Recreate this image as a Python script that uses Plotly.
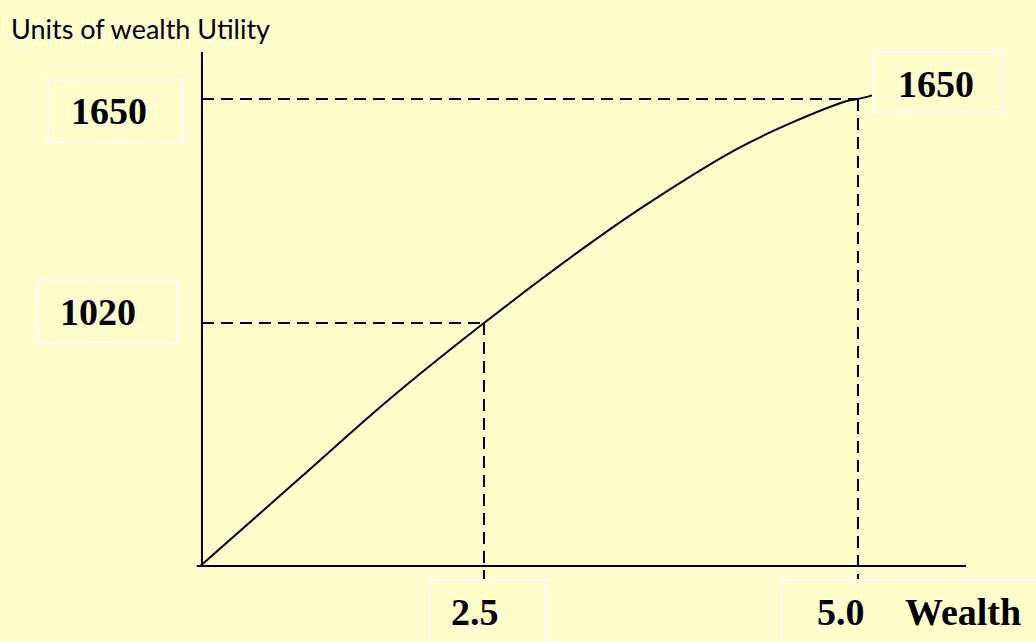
import plotly.graph_objects as go

# ---- data (schematic utility-of-wealth curve) ----
wealth_levels = [2.5, 5.0]
utility_levels = [1020, 1650]
curve_wealth = [0.60, 1.27, 1.86, 2.50, 3.13, 3.56, 4.18, 4.55, 4.95, 5.00, 5.10]
curve_utility = [335, 584, 803, 1020, 1220, 1346, 1507, 1582, 1647, 1650, 1661]
axis_title_y = "Units of wealth Utility"
axis_title_x = "Wealth"

# ---- layout constants ----
W, H = 1036, 642
BG = "#FFFFCC"
X_RANGE = [-0.735, 6.190]
Y_RANGE = [122.85, 1928.5]
ORIGIN_X, ORIGIN_Y = 0.615, 336.6
X_AXIS_END = 5.722
X_AXIS_START = 0.58
Y_AXIS_END = 1782
GUIDE_BOTTOM = 297

def px(x):
    return x / W

def py(y):
    return 1 - y / H

fig = go.Figure()

fig.add_trace(go.Scatter(
    x=curve_wealth, y=curve_utility, mode="lines",
    line=dict(color="black", width=2, shape="spline", smoothing=1.0),
    hoverinfo="skip", showlegend=False,
))

shapes = []
# axes
shapes.append(dict(type="line", xref="x", yref="y", x0=ORIGIN_X, y0=ORIGIN_Y, x1=ORIGIN_X, y1=Y_AXIS_END,
                   line=dict(color="black", width=2)))
shapes.append(dict(type="line", xref="x", yref="y", x0=X_AXIS_START, y0=ORIGIN_Y, x1=X_AXIS_END, y1=ORIGIN_Y,
                   line=dict(color="black", width=2)))
# dashed guides
for w, u in zip(wealth_levels, utility_levels):
    shapes.append(dict(type="line", xref="x", yref="y", x0=ORIGIN_X, y0=u, x1=w, y1=u,
                       line=dict(color="black", width=2, dash="12px,7px")))
    shapes.append(dict(type="line", xref="x", yref="y", x0=w, y0=u, x1=w, y1=GUIDE_BOTTOM,
                       line=dict(color="black", width=2, dash="12px,7px")))

# white label boxes (pixel rectangles)
boxes = [(48, 80, 183, 142), (37, 280, 177, 343), (430, 580, 547, 660),
         (782, 580, 1045, 660), (873, 52, 1002, 112)]
for x0, y0, x1, y1 in boxes:
    shapes.append(dict(type="rect", xref="paper", yref="paper",
                       x0=px(x0), y0=py(y0), x1=px(x1), y1=py(y1),
                       line=dict(color="white", width=2), fillcolor="rgba(0,0,0,0)"))

num_font = dict(family="Liberation Serif", size=38, color="black")
annotations = []
label_pos = [
    (f"<b>{utility_levels[1]}</b>", 109, 111),
    (f"<b>{utility_levels[0]}</b>", 98, 312),
    (f"<b>{wealth_levels[0]:.1f}</b>", 474.5, 612),
    (f"<b>{wealth_levels[1]:.1f}</b>", 841, 612),
    (f"<b>{axis_title_x}</b>", 962.5, 612),
    (f"<b>{utility_levels[1]}</b>", 935.5, 84),
]
for txt, x, y in label_pos:
    annotations.append(dict(text=txt, xref="paper", yref="paper", x=px(x), y=py(y),
                            xanchor="center", yanchor="middle", showarrow=False, font=num_font))
annotations.append(dict(text=axis_title_y, xref="paper", yref="paper", x=px(9), y=py(28),
                        xanchor="left", yanchor="middle", showarrow=False,
                        font=dict(family="Lato", size=27, color="black")))

fig.update_layout(
    width=W, height=H,
    margin=dict(l=0, r=0, t=0, b=0),
    paper_bgcolor=BG, plot_bgcolor=BG,
    xaxis=dict(range=X_RANGE, visible=False, fixedrange=True),
    yaxis=dict(range=Y_RANGE, visible=False, fixedrange=True),
    shapes=shapes, annotations=annotations, showlegend=False,
)

fig.write_html(
    "out.html",
    config={"displayModeBar": False},
    post_script="document.body.style.margin='0';document.body.style.overflow='hidden';"
                "document.body.style.background='" + BG + "';",
)
